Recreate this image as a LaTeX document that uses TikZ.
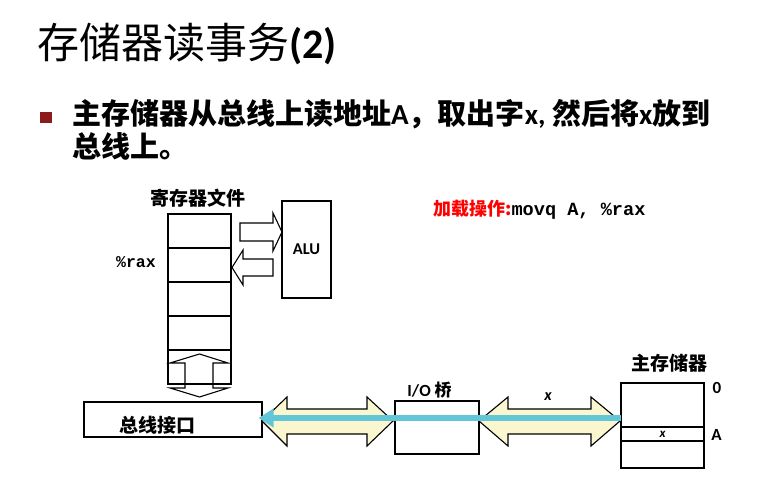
\documentclass[tikz,border=0pt]{standalone}
\usepackage{fontspec}
\setmainfont{Carlito}
\setmonofont{Liberation Mono}
\newfontfamily\cjk{Noto Sans CJK SC}
\usepackage{tikz}
\usetikzlibrary{positioning}
\usetikzlibrary{arrows.meta}
\definecolor{busyellow}{RGB}{250,246,208}
\definecolor{buscyan}{RGB}{98,198,214}
\definecolor{bulletred}{RGB}{140,28,28}
\tikzset{
    regcell/.style = {rectangle, draw=black, line width=1.1pt, minimum width=63pt, minimum height=34pt, inner sep=0pt},
    unitbox/.style = {rectangle, draw=black, line width=1.1pt, fill=white, inner sep=0pt},
    cnlabel/.style = {inner sep=0pt, font=\cjk\bfseries\fontsize{19}{22}\selectfont},
    ltlabel/.style = {inner sep=0pt, font=\bfseries\fontsize{17}{20}\selectfont},
    codelabel/.style = {inner sep=0pt, font=\ttfamily\bfseries\fontsize{17}{20}\selectfont},
    blockarrow/.style = {draw=black, line width=1.1pt}, % register <-> alu
    busarrow/.style = {draw=black, line width=1.1pt, fill=busyellow}, % system bus
    dataline/.style = {line width=6pt, buscyan, -{Triangle[length=15pt, width=18pt]}, shorten >=-4pt} % data flow
}

\begin{document}
\begin{tikzpicture}[x=1pt, y=-1pt]
  \useasboundingbox (0,0) rectangle (763,494);

  % title and text
  \node[anchor=base west, inner sep=0pt, font=\cjk\fontsize{42}{48}\selectfont] (title) at (37,59) {存储器读事务{\rmfamily\bfseries(2)}};
  \node[fill=bulletred, minimum size=11.5pt, inner sep=0pt] (bullet) at (46,117.5) {};
  \node[anchor=base west, inner sep=0pt, font=\cjk\bfseries\fontsize{29}{33}\selectfont] (line1) at (72,125)
    {主存储器从总线上读地址{\rmfamily A}，取出字{\rmfamily x,} 然后将{\rmfamily x}放到};
  \node[anchor=base west, inner sep=0pt, font=\cjk\bfseries\fontsize{29}{33}\selectfont] (line2) at (72,158) {总线上。};

  % register file
  \node[cnlabel] (reglabel) at (198,198) {寄存器文件};
  \node[regcell] (r1) at (199.5,231) {};
  \node[regcell] (r2) at (199.5,265) {};
  \node[regcell] (r3) at (199.5,299) {};
  \node[regcell] (r4) at (199.5,333) {};
  \node[regcell] (r5) at (199.5,367) {};
  \node[codelabel, font=\ttfamily\bfseries\fontsize{16.5}{20}\selectfont] (rax) at (136,262) {\%rax};

  \node[unitbox, minimum width=49pt, minimum height=97pt, font=\bfseries\fontsize{16.5}{20}\selectfont] (alu) at (306.5,249.5) {ALU};

  \draw[blockarrow] (240,223) -- (273,223) -- (273,213) -- (282,232) -- (273,251) -- (273,241) -- (240,241) -- cycle;
  \draw[blockarrow] (273,259) -- (243,259) -- (243,250) -- (232,267.5) -- (243,285) -- (243,276) -- (273,276) -- cycle;
  \draw[blockarrow] (199.5,354) -- (228,363) -- (213,363) -- (213,388) -- (228,388) -- (199.5,397)
    -- (170,388) -- (185,388) -- (185,363) -- (170,363) -- cycle;

  % bus
  \draw[busarrow] (262,421) -- (287,397) -- (287,409) -- (367,409) -- (367,397) -- (393,421)
    -- (367,446) -- (367,434) -- (287,434) -- (287,446) -- cycle;
  \draw[busarrow] (479,421) -- (508,397) -- (508,409) -- (591,409) -- (591,397) -- (620,421)
    -- (591,446) -- (591,434) -- (508,434) -- (508,446) -- cycle;

  \node[unitbox, minimum width=178pt, minimum height=35pt] (bif) at (173,419.5) {};
  \node[cnlabel] (biflabel) at (157.5,425) {总线接口};

  \node[unitbox, minimum width=84pt, minimum height=53pt] (io) at (437,427.5) {};
  \node[ltlabel] (iolabel) at (429.5,390) {I/O {\cjk 桥}};
  \node[ltlabel, font=\bfseries\itshape\fontsize{16}{20}\selectfont] (buslabel) at (548,397) {x};

  % main memory
  \node[cnlabel] (memlabel) at (669,363) {主存储器};
  \node[unitbox, minimum width=83pt, minimum height=85pt] (mem) at (662.5,425.5) {};
  \node[unitbox, minimum width=83pt, minimum height=14pt, font=\bfseries\itshape\fontsize{13}{14}\selectfont] (memx) at (662.5,434) {x};
  \node[ltlabel] (addr0) at (717,388) {0};
  \node[ltlabel] (addrA) at (716.5,435) {A};

  \coordinate (memin) at (620.5,418);
  \draw[dataline] (memin) -- (bif.east |- memin);

  % instruction
  \node[anchor=west, inner sep=0pt] (instr) at (433,210)
    {{\cjk\bfseries\fontsize{18}{20}\selectfont\color{red}加载操作:}{\ttfamily\bfseries\fontsize{18.6}{20}\selectfont movq A, \%rax}};
\end{tikzpicture}
\end{document}
